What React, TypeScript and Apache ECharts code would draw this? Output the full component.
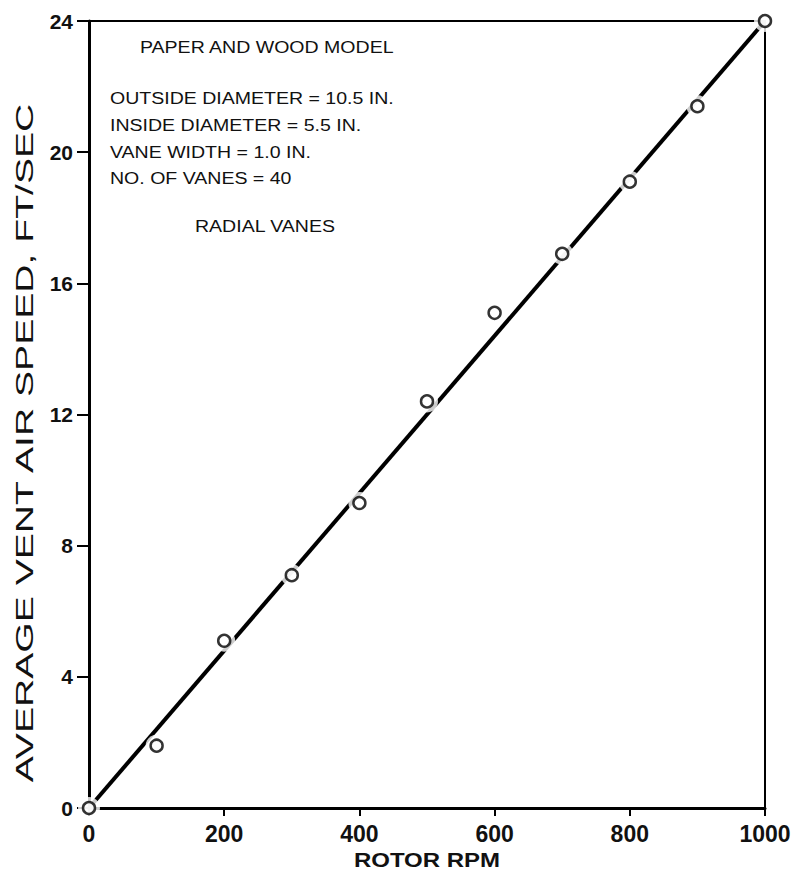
import { useEffect, useRef } from "react";
import * as echarts from "echarts";

// ---- data ----
const rpm = [0, 100, 200, 300, 400, 500, 600, 700, 800, 900, 1000];
const airSpeed = [0, 1.9, 5.1, 7.1, 9.3, 12.4, 15.1, 16.9, 19.1, 21.4, 24];
const fitRpm = [0, 1000];
const fitSpeed = [0, 24];
const xTickLabels = ["0", "200", "400", "600", "800", "1000"];
const yTickLabels = ["0", "4", "8", "12", "16", "20", "24"];
const noteTitle = "PAPER AND WOOD MODEL";
const noteLines = [
  "OUTSIDE DIAMETER = 10.5 IN.",
  "INSIDE DIAMETER = 5.5 IN.",
  "VANE WIDTH = 1.0 IN.",
  "NO. OF VANES = 40",
];
const noteFooter = "RADIAL VANES";
const xTitle = "ROTOR RPM";
const yTitle = "AVERAGE VENT AIR SPEED, FT/SEC";

const FONT = "'Liberation Sans', Arial, Helvetica, sans-serif";

export default function App() {
  const ref = useRef<HTMLDivElement>(null);

  useEffect(() => {
    document.body.style.margin = "0";
    const chart = echarts.init(ref.current!, null, { renderer: "svg" });

    const pts = rpm.map((x, i) => [x, airSpeed[i]]);
    const fit = fitRpm.map((x, i) => [x, fitSpeed[i]]);

    const noteText = (text: string, x: number, y: number, sx: number) => ({
      type: "text",
      x,
      y,
      scaleX: sx,
      style: {
        text,
        fill: "#111",
        font: `normal 17px ${FONT}`,
        textAlign: "left",
        textVerticalAlign: "middle",
      },
    });

    const noteYs = [98, 125, 152, 178];

    chart.setOption({
      animation: false,
      backgroundColor: "#fff",
      grid: {
        left: 89,
        right: 33,
        top: 21,
        bottom: 75,
        show: true,
        borderColor: "#000",
        borderWidth: 2,
      },
      xAxis: {
        type: "value",
        min: 0,
        max: 1000,
        interval: 200,
        splitLine: { show: false },
        axisLine: { onZero: false, lineStyle: { color: "#000", width: 3 } },
        axisTick: { length: 8, lineStyle: { color: "#000", width: 2 } },
        axisLabel: {
          margin: 14,
          color: "#111",
          fontFamily: FONT,
          fontWeight: "bold",
          fontSize: 23,
          formatter: (v: number) => xTickLabels[Math.round(v / 200)] ?? String(v),
        },
      },
      yAxis: {
        type: "value",
        min: 0,
        max: 24,
        interval: 4,
        splitLine: { show: false },
        axisLine: { onZero: false, lineStyle: { color: "#000", width: 3 } },
        axisTick: { length: 12, lineStyle: { color: "#000", width: 2 } },
        axisLabel: {
          margin: 16,
          color: "#111",
          fontFamily: FONT,
          fontWeight: "bold",
          fontSize: 21,
          formatter: (v: number) => yTickLabels[Math.round(v / 4)] ?? String(v),
        },
      },
      series: [
        {
          type: "line",
          data: fit,
          symbol: "none",
          lineStyle: { color: "#000", width: 4 },
          silent: true,
          z: 2,
        },
        {
          type: "scatter",
          data: pts,
          symbol: "circle",
          symbolSize: 22,
          itemStyle: { color: "#fff" },
          clip: false,
          silent: true,
          z: 3,
        },
        {
          type: "scatter",
          data: pts,
          symbol: "circle",
          symbolSize: 12,
          itemStyle: { color: "#fff", borderColor: "#000", borderWidth: 2.5 },
          clip: false,
          silent: true,
          z: 4,
        },
      ],
      graphic: [
        noteText(noteTitle, 140, 47, 1.15),
        ...noteLines.map((t, i) => noteText(t, 110, noteYs[i], 1.15)),
        noteText(noteFooter, 195, 226, 1.15),
        {
          type: "text",
          x: 427,
          y: 860,
          scaleX: 1.2,
          style: {
            text: xTitle,
            fill: "#111",
            font: `bold 20px ${FONT}`,
            textAlign: "center",
            textVerticalAlign: "middle",
          },
        },
        {
          type: "text",
          x: 25,
          y: 443,
          rotation: Math.PI / 2,
          scaleX: 1.63,
          style: {
            text: yTitle,
            fill: "#111",
            font: `normal 24px ${FONT}`,
            textAlign: "center",
            textVerticalAlign: "middle",
          },
        },
      ],
    });

    return () => chart.dispose();
  }, []);

  return <div ref={ref} style={{ width: 798, height: 883 }} />;
}
